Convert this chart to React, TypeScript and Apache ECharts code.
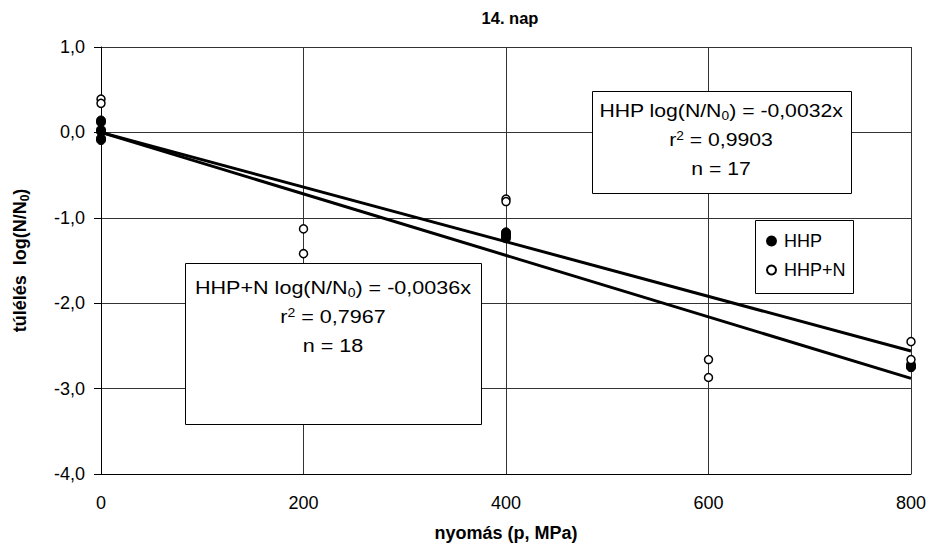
import React, { useEffect, useRef } from "react";
import * as echarts from "echarts";

const xTicks = [0, 200, 400, 600, 800];
const yTicks = [-4, -3, -2, -1, 0, 1];

const hhpX = [0, 0, 0, 0, 0, 0, 400, 400, 400, 400, 800, 800, 800];
const hhpY = [0.14, 0.12, 0.03, 0.01, -0.07, -0.09, -1.17, -1.19, -1.22, -1.24, -2.72, -2.74, -2.75];

const hhpnX = [0, 0, 200, 200, 400, 400, 600, 600, 800, 800];
const hhpnY = [0.39, 0.34, -1.13, -1.42, -0.78, -0.81, -2.66, -2.87, -2.45, -2.66];

const slopeHHP = -0.0032;
const slopeHHPN = -0.0036;
const trendX = [0, 800];

const FONT = "Liberation Sans, Arial, sans-serif";

export default function App() {
  const ref = useRef<HTMLDivElement>(null);
  useEffect(() => {
    if (!ref.current) return;
    const chart = echarts.init(ref.current, undefined, { renderer: "svg" });
    const fmt = (v: number) => v.toFixed(1).replace(".", ",");
    const richBox = {
      a: { fontSize: 18.5, lineHeight: 29, fontFamily: FONT, fill: "#000" },
      s: { fontSize: 12, lineHeight: 29, verticalAlign: "bottom", padding: [0, 0, 3, 0], fontFamily: FONT },
      p: { fontSize: 12, lineHeight: 29, verticalAlign: "top", padding: [5, 0, 0, 0], fontFamily: FONT },
    };
    const option: any = {
      animation: false,
      textStyle: { fontFamily: FONT },
      title: {
        text: "14. nap",
        left: 505,
        textAlign: "center",
        top: 4,
        textStyle: { fontSize: 16.5, fontWeight: "bold", color: "#000", fontFamily: FONT },
      },
      grid: { left: 101, right: 19, top: 47, bottom: 79, containLabel: false },
      xAxis: {
        type: "value",
        min: 0,
        max: 800,
        interval: 200,
        name: "nyomás (p, MPa)",
        nameLocation: "middle",
        nameGap: 50,
        nameTextStyle: { fontSize: 18, fontWeight: "bold", color: "#000", fontFamily: FONT },
        axisLine: { show: true, onZero: false, lineStyle: { color: "#000", width: 1 } },
        axisTick: { show: false },
        axisLabel: { fontSize: 18, color: "#000", margin: 20, fontFamily: FONT },
        splitLine: { show: true, lineStyle: { color: "#333", width: 1 } },
      },
      yAxis: {
        type: "value",
        min: -4,
        max: 1,
        interval: 1,
        name: "túlélés  log(N/N{s|0})",
        nameLocation: "middle",
        nameGap: 70,
        nameRotate: 90,
        nameTextStyle: {
          fontSize: 18,
          fontWeight: "bold",
          color: "#000",
          fontFamily: FONT,
          lineHeight: 22,
          rich: {
            s: { fontSize: 12, fontWeight: "bold", lineHeight: 22, verticalAlign: "bottom", fontFamily: FONT },
          },
        },
        axisLine: { show: true, onZero: false, lineStyle: { color: "#000", width: 1 } },
        axisTick: { show: true, inside: false, length: 7, lineStyle: { color: "#000" } },
        axisLabel: { fontSize: 18, color: "#000", margin: 16, formatter: fmt, fontFamily: FONT },
        splitLine: { show: true, lineStyle: { color: "#333", width: 1 } },
      },
      legend: {
        data: ["HHP", "HHP+N"],
        orient: "vertical",
        left: 766,
        top: 231,
        padding: 0,
        itemWidth: 9,
        itemHeight: 9,
        itemGap: 9,
        z: 20,
        textStyle: { fontSize: 18, color: "#000", lineHeight: 20, fontFamily: FONT, padding: [0, 0, 0, 3] },
      },
      graphic: [
        {
          type: "rect",
          z: 15,
          shape: { x: 755.5, y: 220.5, width: 98, height: 73 },
          style: { fill: "#fff", stroke: "#000", lineWidth: 1 },
        },
        {
          type: "rect",
          z: 15,
          shape: { x: 592.5, y: 91.5, width: 259, height: 102 },
          style: { fill: "#fff", stroke: "#000", lineWidth: 1 },
        },
        {
          type: "text",
          z: 16,
          x: 721,
          y: 96,
          scaleX: 1.145,
          style: {
            text: "{a|HHP log(N/N}{s|0}{a|) = -0,0032x}\n{a|r}{p|2}{a| = 0,9903}\n{a|n = 17}",
            align: "center",
            verticalAlign: "top",
            fill: "#000",
            fontFamily: FONT,
            rich: richBox,
          },
        },
        {
          type: "rect",
          z: 15,
          shape: { x: 185.5, y: 263.5, width: 296, height: 161 },
          style: { fill: "#fff", stroke: "#000", lineWidth: 1 },
        },
        {
          type: "text",
          z: 16,
          x: 333,
          y: 273,
          scaleX: 1.165,
          style: {
            text: "{a|HHP+N log(N/N}{s|0}{a|) = -0,0036x}\n{a|r}{p|2}{a| = 0,7967}\n{a|n = 18}",
            align: "center",
            verticalAlign: "top",
            fill: "#000",
            fontFamily: FONT,
            rich: richBox,
          },
        },
      ],
      series: [
        {
          name: "HHP trend",
          type: "line",
          data: trendX.map((x) => [x, slopeHHP * x]),
          showSymbol: false,
          symbol: "none",
          lineStyle: { color: "#000", width: 3 },
          z: 3,
        },
        {
          name: "HHP+N trend",
          type: "line",
          data: trendX.map((x) => [x, slopeHHPN * x]),
          showSymbol: false,
          symbol: "none",
          lineStyle: { color: "#000", width: 3 },
          z: 3,
        },
        {
          name: "HHP",
          type: "scatter",
          data: hhpX.map((x, i) => [x, hhpY[i]]),
          symbol: "circle",
          symbolSize: 9,
          itemStyle: { color: "#000", borderColor: "#000", borderWidth: 1, opacity: 1 },
          z: 4,
        },
        {
          name: "HHP+N",
          type: "scatter",
          data: hhpnX.map((x, i) => [x, hhpnY[i]]),
          symbol: "circle",
          symbolSize: 8,
          itemStyle: { color: "#fff", borderColor: "#000", borderWidth: 1.5, opacity: 1 },
          z: 5,
        },
      ],
    };
    chart.setOption(option);
    return () => chart.dispose();
  }, []);
  return (
    <div
      ref={ref}
      style={{ position: "absolute", left: 0, top: 0, width: 930, height: 553 }}
    />
  );
}
